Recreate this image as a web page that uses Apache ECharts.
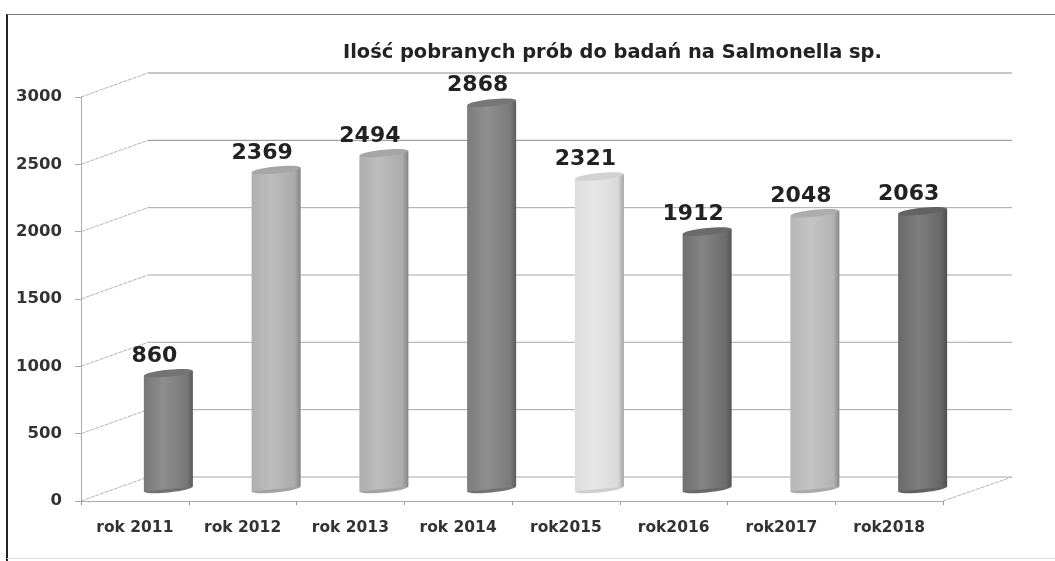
<!DOCTYPE html>
<html>
<head>
<meta charset="utf-8">
<title>Salmonella</title>
<script src="https://cdn.jsdelivr.net/npm/echarts@6/dist/echarts.min.js"></script>
<style>
  html, body { margin: 0; padding: 0; background: #fff; }
  #chart { width: 1055px; height: 561px; }
</style>
</head>
<body>
<div id="chart"></div>
<script>
var categories = ['rok 2011', 'rok 2012', 'rok 2013', 'rok 2014', 'rok2015', 'rok2016', 'rok2017', 'rok2018'];
var values = [860, 2369, 2494, 2868, 2321, 1912, 2048, 2063];
var barColors = ['#7d7d7d', '#b4b4b4', '#b4b4b4', '#808080', '#e4e4e4', '#737373', '#bcbcbc', '#6c6c6c'];
var yTicks = [0, 500, 1000, 1500, 2000, 2500, 3000];

// depth of the fake 3d box, in px
var depthX = 67;
var depthY = 24;

// k > 0 lighter, k < 0 darker (color.lift only ever lightens)
function shade(c, k) {
  var a = echarts.color.parse(c);
  for (var i = 0; i < 3; i++) {
    a[i] = k > 0 ? Math.round(a[i] + (255 - a[i]) * k) : Math.round(a[i] * (1 + k));
  }
  return echarts.color.stringify(a, 'rgb');
}

function renderWall(params, api) {
  var grid = params.coordSys;
  var p = api.coord([0, api.value(0)]);
  var left = grid.x;
  var right = grid.x + grid.width;
  var y = p[1];
  var children = [
    { type: 'line', shape: { x1: left, y1: y, x2: left + depthX, y2: y - depthY },
      style: { stroke: '#b4b4b4', lineWidth: 1, lineDash: [4, 1] } },
    { type: 'line', shape: { x1: left + depthX, y1: y - depthY, x2: right + depthX + 2, y2: y - depthY },
      style: { stroke: api.value(0) >= 2500 ? '#8c8c8c' : '#a8a8a8', lineWidth: 1 } }
  ];
  if (api.value(0) === 0) {
    children.push({ type: 'line', shape: { x1: right, y1: y, x2: right + depthX + 2, y2: y - depthY },
      style: { stroke: '#b4b4b4', lineWidth: 1, lineDash: [4, 1] } });
  }
  return { type: 'group', children: children };
}

function renderCylinder(params, api) {
  var idx = api.value(0);
  var val = api.value(1);
  var base = api.coord([idx, 0]);
  var top = api.coord([idx, val]);
  var w = api.size([1, 0])[0] * 0.455;
  var cx = base[0] + depthX / 2;
  var by = base[1] - depthY / 2;
  var ty = top[1] - depthY / 2;
  var tilt = 2.5;
  var c = barColors[idx];
  var fill = new echarts.graphic.LinearGradient(0, 0, 1, 0, [
    { offset: 0, color: shade(c, -0.03) },
    { offset: 0.4, color: shade(c, 0.12) },
    { offset: 0.88, color: shade(c, -0.05) },
    { offset: 1, color: shade(c, -0.28) }
  ]);
  return {
    type: 'group',
    children: [
      { type: 'ellipse', shape: { cx: cx, cy: by, rx: w / 2, ry: 3.5 }, rotation: 0.1,
        originX: cx, originY: by, style: { fill: shade(c, -0.1) } },
      { type: 'polygon',
        shape: { points: [[cx - w / 2, ty + tilt], [cx + w / 2, ty - tilt], [cx + w / 2, by - tilt], [cx - w / 2, by + tilt]] },
        style: { fill: fill } },
      { type: 'ellipse', shape: { cx: cx, cy: ty, rx: w / 2, ry: 3.5 }, rotation: 0.1,
        originX: cx, originY: ty, style: { fill: shade(c, -0.08) } },
      { type: 'text', x: cx - 14, y: ty - 17,
        style: { text: String(val), fill: '#222', font: 'bold 22px "DejaVu Sans"', align: 'center', verticalAlign: 'middle' } }
    ]
  };
}

var myChart = echarts.init(document.getElementById('chart'));
var option = {
  animation: false,
  backgroundColor: '#fff',
  title: {
    text: 'Ilość pobranych prób do badań na Salmonella sp.',
    left: 338,
    top: 38,
    textStyle: { color: '#222', fontFamily: 'DejaVu Sans', fontWeight: 'bold', fontSize: 19.4 }
  },
  grid: { left: 81, right: 112, top: 97, bottom: 60 },
  xAxis: {
    type: 'category',
    data: categories,
    axisTick: { show: true, length: 4, lineStyle: { color: '#999' } },
    axisLine: { lineStyle: { color: '#aaa' } },
    axisLabel: { interval: 0, margin: 19, color: '#333', fontFamily: 'DejaVu Sans', fontWeight: 'bold', fontSize: 15.5 }
  },
  yAxis: {
    type: 'value',
    min: 0,
    max: 3000,
    interval: 500,
    splitLine: { show: false },
    axisLine: { show: true, lineStyle: { color: '#aaa' } },
    axisTick: { show: true, length: 6, lineStyle: { color: '#aaa' } },
    axisLabel: { margin: 19, color: '#333', fontFamily: 'DejaVu Sans', fontWeight: 'bold', fontSize: 16.5,
      formatter: function (v) { return String(v); } }
  },
  graphic: [
    { type: 'line', shape: { x1: 7, y1: 14, x2: 7, y2: 561 }, style: { stroke: '#222', lineWidth: 2 } },
    { type: 'line', shape: { x1: 7, y1: 14.5, x2: 1055, y2: 14.5 }, style: { stroke: '#777', lineWidth: 1 } },
    { type: 'line', shape: { x1: 7, y1: 558.5, x2: 1055, y2: 558.5 }, style: { stroke: '#ddd', lineWidth: 1 } }
  ],
  series: [
    {
      type: 'custom',
      name: 'siatka',
      data: yTicks.map(function (t) { return [t]; }),
      encode: { y: 0 },
      renderItem: renderWall,
      silent: true,
      z: 1
    },
    {
      type: 'custom',
      name: 'Ilość prób',
      data: values.map(function (v, i) { return [i, v]; }),
      encode: { x: 0, y: 1 },
      renderItem: renderCylinder,
      z: 2
    }
  ]
};
myChart.setOption(option);
</script>
</body>
</html>
